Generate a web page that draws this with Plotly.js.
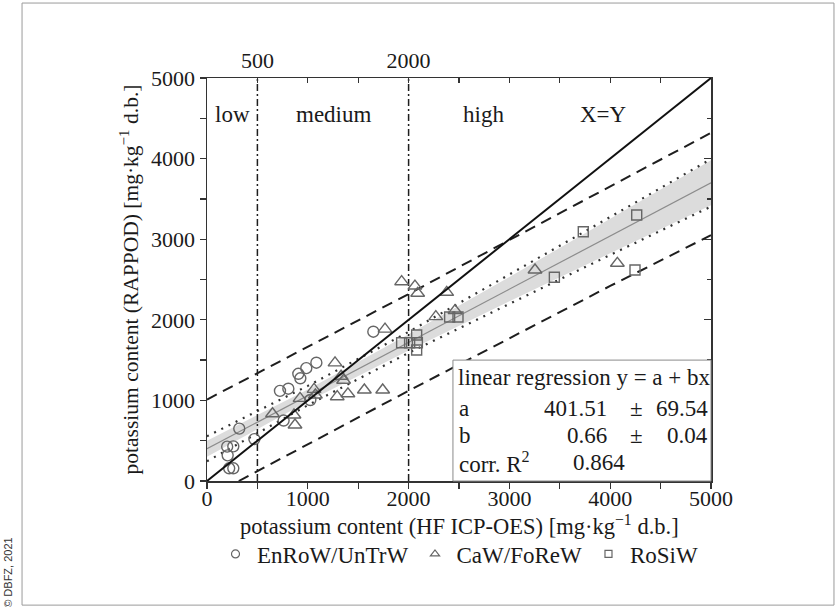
<!DOCTYPE html>
<html>
<head>
<meta charset="utf-8">
<script src="https://cdn.plot.ly/plotly-3.0.1.min.js"></script>
<style>html,body{margin:0;padding:0;background:#fff;}#chart{width:836px;height:607px;}</style>
</head>
<body>
<div id="chart"></div>
<script>
// ---- data ----
const circleX = [1650, 906, 926, 985, 1085, 724, 807, 1025, 760, 320, 200, 261, 470, 205, 220, 261];
const circleY = [1852, 1330, 1274, 1400, 1468, 1118, 1145, 1005, 750, 650, 426, 430, 520, 318, 158, 158];

const triX = [650, 863, 873, 923, 1062, 1075, 1270, 1330, 1355, 1292, 1398, 1561, 1743, 1766, 1931, 2063, 2090, 2378, 2270, 2460, 3254, 4071];
const triY = [835, 819, 695, 1025, 1137, 1067, 1465, 1300, 1250, 1046, 1082, 1129, 1129, 1884, 2473, 2419, 2329, 2341, 2040, 2115, 2618, 2701];

const sqX = [1931, 2010, 2080, 2080, 2087, 2407, 2490, 3446, 3733, 4263, 4246];
const sqY = [1716, 1716, 1811, 1625, 1716, 2035, 2035, 2527, 3093, 3300, 2618];

const bandX    = [0, 1000, 2000, 3000, 4000, 5000];
const fitY     = [400, 1060, 1720, 2380, 3040, 3700];
const confUp   = [500, 1135, 1820, 2530, 3255, 3980];
const confLo   = [300, 985, 1620, 2230, 2825, 3420];
const dotUp    = [555, 1180, 1850, 2560, 3275, 3995];
const dotLo    = [245, 940, 1590, 2200, 2805, 3405];
const predUp   = [1010, 1660, 2320, 2990, 3660, 4320];
const predLo   = [-210, 460, 1120, 1770, 2420, 3050];

const identX = [0, 5000];
const identY = [0, 5000];
const zoneX  = [500, 2000];
const zoneLabels = ['low', 'medium', 'high', 'X=Y'];
const zoneLabelX = [250, 1250, 2740, 3930];

const seriesNames = ['EnRoW/UnTrW', 'CaW/FoReW', 'RoSiW'];
const topTickVals = [500, 2000];
const topTickText = ['500', '2000'];

const tableRows = [
  ['a', '401.51', '±', '69.54'],
  ['b', '0.66', '±', '0.04']
];
const r2Value = '0.864';
const xTitle = 'potassium content (HF ICP-OES) [mg·kg<sup>−1</sup> d.b.]';
const yTitle = 'potassium content (RAPPOD) [mg·kg<sup>−1</sup> d.b.]';

// ---- build ----
const FS = 23;
const TFS = 22;
const grey = '#666666';
const zx = [], zy = [];
zoneX.forEach(v => { zx.push(v, v, null); zy.push(0, 5000, null); });

const traces = [
  {x: bandX, y: confLo, mode: 'lines', line: {width: 0, color: 'rgba(0,0,0,0)'}, showlegend: false, hoverinfo: 'skip'},
  {x: bandX, y: confUp, mode: 'lines', line: {width: 0, color: 'rgba(0,0,0,0)'}, fill: 'tonexty', fillcolor: '#dcdcdc', showlegend: false, hoverinfo: 'skip'},
  {x: bandX, y: fitY, mode: 'lines', line: {color: '#8c8c8c', width: 1.2}, showlegend: false},
  {x: bandX, y: dotUp, mode: 'lines', line: {color: '#333', width: 2.2, dash: '2px,6px'}, showlegend: false},
  {x: bandX, y: dotLo, mode: 'lines', line: {color: '#333', width: 2.2, dash: '2px,6px'}, showlegend: false},
  {x: bandX, y: predUp, mode: 'lines', line: {color: '#1e1e1e', width: 2, dash: '11px,7px'}, showlegend: false},
  {x: bandX, y: predLo, mode: 'lines', line: {color: '#1e1e1e', width: 2, dash: '11px,7px'}, showlegend: false},
  {x: zx, y: zy, mode: 'lines', line: {color: '#1e1e1e', width: 1.5, dash: '7px,3px,2px,3px'}, showlegend: false},
  {x: identX, y: identY, xaxis: 'x2', yaxis: 'y2', mode: 'lines', line: {color: '#111', width: 2}, showlegend: false},
  {x: circleX, y: circleY, mode: 'markers', marker: {symbol: 'circle-open', size: 11, color: grey, line: {width: 1.4, color: grey}}, showlegend: false, cliponaxis: false},
  {x: triX, y: triY, mode: 'markers', marker: {symbol: 'triangle-up-open', size: 12, color: grey, line: {width: 1.4, color: grey}}, showlegend: false, cliponaxis: false},
  {x: sqX, y: sqY, mode: 'markers', marker: {symbol: 'square-open', size: 10, color: grey, line: {width: 1.4, color: grey}}, showlegend: false, cliponaxis: false},
  {x: [null], y: [null], name: seriesNames[0], mode: 'markers', marker: {symbol: 'circle-open', size: 8, color: grey, line: {width: 1.2, color: grey}}},
  {x: [null], y: [null], name: seriesNames[1], mode: 'markers', marker: {symbol: 'triangle-up-open', size: 8, color: grey, line: {width: 1.2, color: grey}}},
  {x: [null], y: [null], name: seriesNames[2], mode: 'markers', marker: {symbol: 'square-open', size: 7, color: grey, line: {width: 1.2, color: grey}}}
];

const axLine = {showline: true, linecolor: '#333', linewidth: 1.5, showgrid: false, zeroline: false, range: [0, 5000], fixedrange: true, tickfont: {size: TFS}};

const annotations = [];
zoneLabels.forEach((t, i) => annotations.push({x: zoneLabelX[i], y: 4550, xref: 'x', yref: 'y', text: t, showarrow: false, font: {size: FS}}));

const colX = [0.496, 0.798, 0.852, 0.998];
const colAnchor = ['left', 'right', 'center', 'right'];
const rowY = [0.181, 0.112];
annotations.push({xref: 'paper', yref: 'paper', x: 0.494, y: 0.257, xanchor: 'left', yanchor: 'middle', text: 'linear regression y = a + bx', showarrow: false, font: {size: FS}});
tableRows.forEach((row, r) => row.forEach((cell, c) => annotations.push({
  xref: 'paper', yref: 'paper', x: colX[c], y: rowY[r], xanchor: colAnchor[c], yanchor: 'middle', text: cell, showarrow: false, font: {size: FS}
})));
annotations.push({xref: 'paper', yref: 'paper', x: 0.496, y: 0.047, xanchor: 'left', yanchor: 'middle', text: 'corr. R<sup>2</sup>', showarrow: false, font: {size: FS}});
annotations.push({xref: 'paper', yref: 'paper', x: 0.722, y: 0.047, xanchor: 'left', yanchor: 'middle', text: r2Value, showarrow: false, font: {size: FS}});
annotations.push({xref: 'paper', yref: 'paper', x: 0.5, y: -0.109, xanchor: 'center', yanchor: 'middle', text: xTitle, showarrow: false, font: {size: 22.5}});
annotations.push({xref: 'paper', yref: 'paper', x: -0.395, y: -0.228, xanchor: 'center', yanchor: 'middle', text: '© DBFZ, 2021', textangle: -90, showarrow: false, font: {family: 'Liberation Sans, Arial, sans-serif', size: 11, color: '#333'}});

const layout = {
  width: 836, height: 607,
  margin: {l: 207, r: 125, t: 78, b: 126},
  paper_bgcolor: '#fff', plot_bgcolor: '#fff',
  font: {family: 'Liberation Serif, Times New Roman, serif', size: FS, color: '#1a1a1a'},
  xaxis: Object.assign({}, axLine, {
    dtick: 1000, tick0: 0, ticks: 'outside', ticklen: 6, tickwidth: 1.3, tickcolor: '#333', ticklabelstandoff: -9,
    minor: {dtick: 500, ticks: 'outside', ticklen: 6, tickwidth: 1.3, tickcolor: '#333'}
  }),
  xaxis2: Object.assign({}, axLine, {
    overlaying: 'x', side: 'top', anchor: 'y2', tickmode: 'array', tickvals: topTickVals, ticktext: topTickText,
    ticks: 'inside', ticklen: 5, tickwidth: 1.3, tickcolor: '#333',
    minor: {tickmode: 'linear', tick0: 0, dtick: 500, ticks: 'inside', ticklen: 5, tickwidth: 1.3, tickcolor: '#333'}
  }),
  yaxis: Object.assign({}, axLine, {
    dtick: 1000, tick0: 0, ticks: 'outside', ticklen: 6, tickwidth: 1.3, tickcolor: '#333',
    minor: {dtick: 500, ticks: 'outside', ticklen: 6, tickwidth: 1.3, tickcolor: '#333'},
    title: {text: yTitle, standoff: 6, font: {size: 21.5}}
  }),
  yaxis2: Object.assign({}, axLine, {
    overlaying: 'y', side: 'right', anchor: 'x2', showticklabels: false,
    dtick: 1000, tick0: 0, ticks: 'inside', ticklen: 7, tickwidth: 1.3, tickcolor: '#333',
    minor: {dtick: 500, ticks: 'inside', ticklen: 4, tickwidth: 1.3, tickcolor: '#333'}
  }),
  showlegend: true,
  legend: {orientation: 'h', traceorder: 'normal', x: 0.5, xanchor: 'center', y: -0.181, yanchor: 'middle', font: {size: FS}, bgcolor: 'rgba(0,0,0,0)', itemwidth: 33},
  shapes: [
    {type: 'rect', xref: 'paper', yref: 'paper', x0: 0.488, x1: 1.0, y0: 0, y1: 0.300, line: {color: '#8a8a8a', width: 1}, fillcolor: '#fff', layer: 'above'},
    {type: 'rect', xref: 'paper', yref: 'paper', x0: -0.367, x1: 1.244, y0: -0.308, y1: 1.186, line: {color: '#9a9a9a', width: 1}, fillcolor: 'rgba(0,0,0,0)', layer: 'below'}
  ],
  annotations: annotations
};

Plotly.newPlot('chart', traces, layout, {staticPlot: true, displayModeBar: false});
</script>
</body>
</html>
